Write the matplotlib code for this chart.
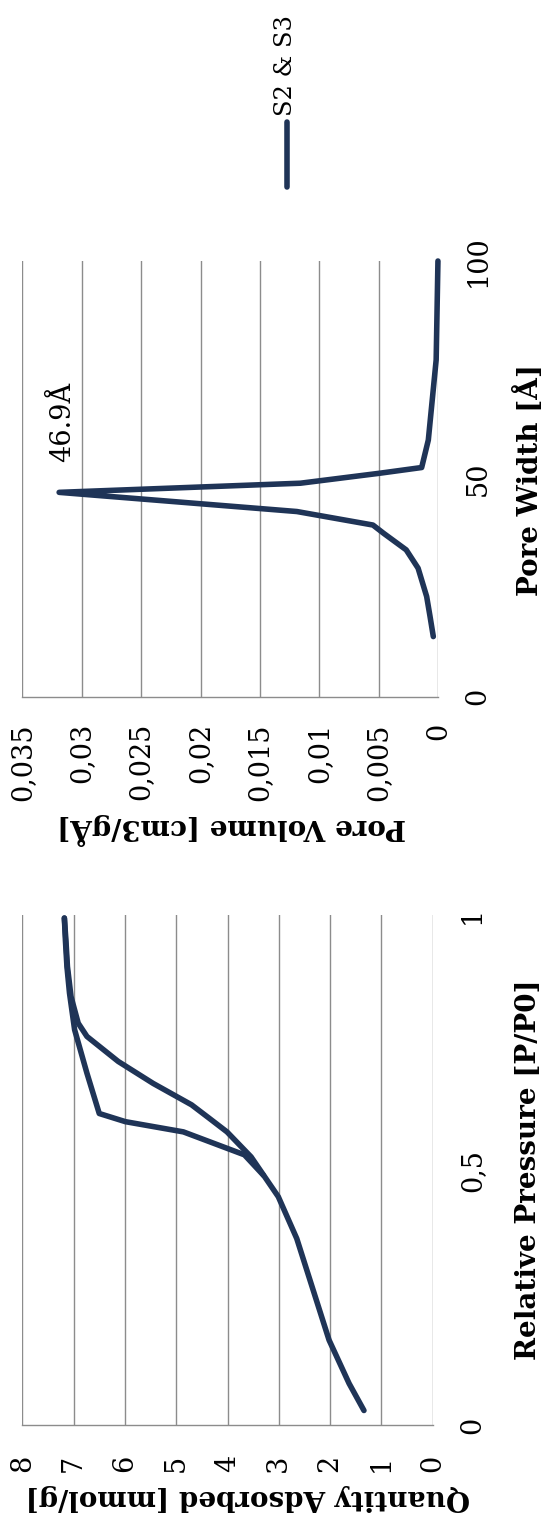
import matplotlib
matplotlib.use("Agg")
import matplotlib.pyplot as plt
from matplotlib.lines import Line2D

# Pore size distribution (BJH)
pore_width = [13.8, 18.5, 23.0, 29.5, 33.7, 37.5, 39.4, 42.5, 46.9, 49.0, 51.3, 52.6, 58.9, 77.3, 100.0]
pore_volume = [0.00042, 0.0007, 0.00098, 0.0017, 0.0027, 0.0046, 0.0055, 0.0119, 0.0319,
               0.0116, 0.0049, 0.0014, 0.00084, 0.00018, 0.00003]
peak_width = 46.9
peak_volume = 0.0319

# N2 isotherm: adsorption and desorption branches
pressure_ads = [0.029, 0.082, 0.167, 0.366, 0.448, 0.526, 0.575, 0.602, 0.628, 0.670, 0.713,
                0.762, 0.788, 0.840, 0.899, 0.951, 0.994]
quantity_ads = [1.34, 1.63, 2.02, 2.65, 3.01, 3.54, 4.01, 4.36, 4.70, 5.45, 6.13,
                6.74, 6.91, 7.05, 7.12, 7.15, 7.18]
pressure_des = [0.994, 0.951, 0.899, 0.847, 0.775, 0.690, 0.611, 0.595, 0.575, 0.530, 0.490]
quantity_des = [7.18, 7.16, 7.13, 7.08, 6.98, 6.74, 6.50, 5.99, 4.86, 3.67, 3.30]

volume_ticks = [0, 0.005, 0.01, 0.015, 0.02, 0.025, 0.03, 0.035]
volume_labels = ["0", "0,005", "0,01", "0,015", "0,02", "0,025", "0,03", "0,035"]
width_ticks = [0, 50, 100]
width_labels = ["0", "50", "100"]
quantity_ticks = [0, 1, 2, 3, 4, 5, 6, 7, 8]
quantity_labels = ["0", "1", "2", "3", "4", "5", "6", "7", "8"]
pressure_ticks = [0, 0.5, 1]
pressure_labels = ["0", "0,5", "1"]
series_name = "S2 & S3"

LINE = "#1f3457"
GRID = "#8c8c8c"
FONT = "DejaVu Serif"
TICK_SIZE = 19.5
TITLE_SIZE = 20

plt.rcParams["font.family"] = FONT

W, H = 547, 1517
fig = plt.figure(figsize=(W / 100, H / 100), dpi=100)


def px_axes(x0, x1, ytop, ybot):
    return fig.add_axes([x0 / W, 1 - ybot / H, (x1 - x0) / W, (ybot - ytop) / H])


def style(ax):
    for side in ("left", "top", "right"):
        ax.spines[side].set_visible(False)
    ax.spines["bottom"].set_color(GRID)
    ax.spines["bottom"].set_linewidth(1.0)
    ax.grid(axis="x", color=GRID, linewidth=1.0)
    ax.grid(axis="y", visible=False)
    ax.set_axisbelow(True)
    ax.tick_params(length=0)


# ---- Pore size distribution (drawn rotated: width runs upward) ----
ax1 = px_axes(22.3, 438.3, 261, 696.7)
style(ax1)
ax1.plot(pore_volume, pore_width, color=LINE, lw=4.0,
         solid_capstyle="round", solid_joinstyle="round", clip_on=False)
ax1.set_xlim(0.035, 0)
ax1.set_ylim(0, 100)
ax1.set_xticks(volume_ticks)
ax1.set_xticklabels(volume_labels, rotation=90, ha="center", va="top", fontsize=TICK_SIZE)
ax1.tick_params(axis="x", pad=19)
ax1.yaxis.tick_right()
ax1.set_yticks(width_ticks)
ax1.set_yticklabels(width_labels, rotation=90, ha="left", va="center", fontsize=TICK_SIZE)
ax1.tick_params(axis="y", pad=19)
ax1.set_xlabel("Pore Volume [cm3/gÅ]", rotation=180, ha="center", va="center",
               fontsize=TITLE_SIZE, fontweight="bold")
ax1.xaxis.set_label_coords((232 - 22.3) / 416, (696.7 - 829) / 435.7)
ax1.yaxis.set_label_position("right")
ax1.set_ylabel("Pore Width [Å]", rotation=90, ha="center", va="center",
               fontsize=TITLE_SIZE, fontweight="bold")
ax1.yaxis.set_label_coords((529 - 22.3) / 416, (696.7 - 480) / 435.7)
ax1.annotate(f"{peak_width}Å", xy=(peak_volume, peak_width), xytext=(2.3, 21.6),
             textcoords="offset points", rotation=90, ha="center", va="bottom",
             fontsize=TICK_SIZE)

# ---- Isotherm (drawn rotated: pressure runs upward) ----
ax2 = px_axes(22.3, 432.7, 915, 1425.3)
style(ax2)
ax2.plot(quantity_ads, pressure_ads, color=LINE, lw=4.0,
         solid_capstyle="round", solid_joinstyle="round", clip_on=False)
ax2.plot(quantity_des, pressure_des, color=LINE, lw=4.0,
         solid_capstyle="round", solid_joinstyle="round", clip_on=False)
ax2.set_xlim(8, 0)
ax2.set_ylim(0, 1)
ax2.set_xticks(quantity_ticks)
ax2.set_xticklabels(quantity_labels, rotation=90, ha="center", va="top", fontsize=TICK_SIZE)
ax2.tick_params(axis="x", pad=21)
ax2.yaxis.tick_right()
ax2.set_yticks(pressure_ticks)
ax2.set_yticklabels(pressure_labels, rotation=90, ha="left", va="center", fontsize=TICK_SIZE)
ax2.tick_params(axis="y", pad=19)
ax2.set_xlabel("Quantity Adsorbed [mmol/g]", rotation=180, ha="center", va="center",
               fontsize=TITLE_SIZE, fontweight="bold")
ax2.xaxis.set_label_coords((247.5 - 22.3) / 410.4, (1425.3 - 1498) / 510.3)
ax2.yaxis.set_label_position("right")
ax2.set_ylabel("Relative Pressure [P/P0]", rotation=90, ha="center", va="center",
               fontsize=TITLE_SIZE, fontweight="bold")
ax2.yaxis.set_label_coords((529 - 22.3) / 410.4, (1425.3 - 1170) / 510.3)

# ---- Legend (vertical key above the series name) ----
fig.add_artist(Line2D([286.7 / W, 286.7 / W], [1 - 186.7 / H, 1 - 121.7 / H],
                      transform=fig.transFigure, color=LINE, lw=4.0, solid_capstyle="round"))
fig.text(286 / W, 1 - 116 / H, series_name, rotation=90, ha="center", va="bottom",
         fontsize=17.5)

fig.savefig("out.png", dpi=100, facecolor="white")
